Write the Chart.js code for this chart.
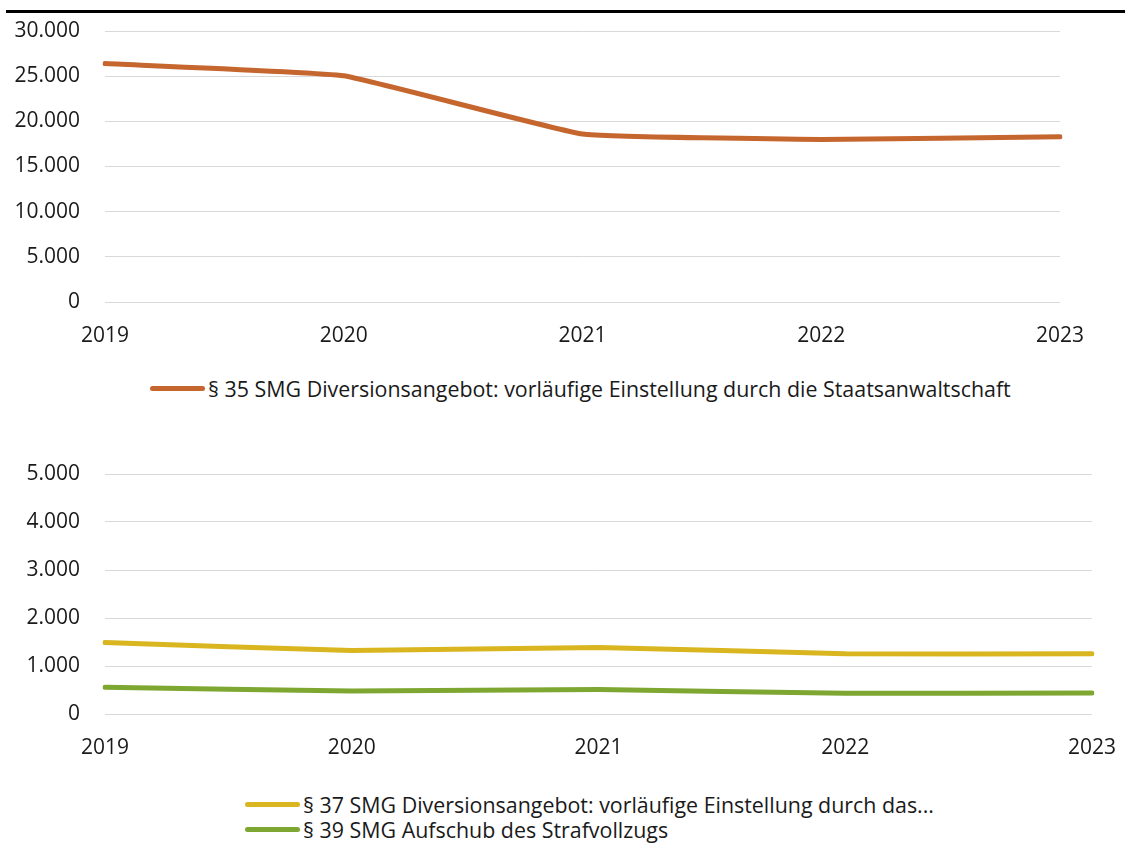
<!DOCTYPE html>
<html>
<head>
<meta charset="utf-8">
<script src="https://cdn.jsdelivr.net/npm/chart.js@4"></script>
<style>
  body { margin: 0; background: #fff; width: 1125px; height: 843px; position: relative; overflow: hidden;
         font-family: "Open Sans", "Noto Sans", sans-serif; color: #1a1a1a; }
  .rule { position: absolute; left: 6px; right: 0; top: 10px; height: 3px; background: #000; }
  .box { position: absolute; left: 0; width: 1125px; }
  .legend { position: absolute; font-size: 21.4px; line-height: 25px; white-space: nowrap; }
  .legend div { display: flex; align-items: center; }
  .legend span.swatch { display: inline-block; width: 55px; height: 5px; border-radius: 3px; margin-right: 3px; }
</style>
</head>
<body>
<div class="rule"></div>
<div class="box" style="top:12px;height:348px"><canvas id="chartTop"></canvas></div>
<div class="legend" id="legendTop" style="left:150px;top:376px"></div>
<div class="box" style="top:455px;height:317px"><canvas id="chartBottom"></canvas></div>
<div class="legend" id="legendBottom" style="left:245px;top:792px"></div>
<script>
// years on the x axis
const years = ["2019", "2020", "2021", "2022", "2023"];

// § 35 SMG (top chart)
const label35 = "§ 35 SMG Diversionsangebot: vorläufige Einstellung durch die Staatsanwaltschaft";
const values35 = [26400, 25050, 18600, 18000, 18300];

// § 37 and § 39 SMG (bottom chart)
const label37 = "§ 37 SMG Diversionsangebot: vorläufige Einstellung durch das...";
const values37 = [1490, 1325, 1385, 1255, 1255];
const label39 = "§ 39 SMG Aufschub des Strafvollzugs";
const values39 = [555, 480, 510, 430, 435];

const COL_ORANGE = "#c6662f";
const COL_YELLOW = "#d9b520";
const COL_GREEN = "#7ea732";

const FONT = { family: '"Open Sans", "Noto Sans", sans-serif', size: 21 };

// 26400 -> "26.400"
const fmt = v => String(v).replace(/\B(?=(\d{3})+(?!\d))/g, ".");

function lineSet(label, data, color) {
  return {
    label, data,
    borderColor: color,
    backgroundColor: color,
    borderWidth: 5,
    borderCapStyle: "round",
    borderJoinStyle: "round",
    pointRadius: 0,
    tension: 0.1,
    fill: false
  };
}

function makeChart(id, datasets, yMax, step, padRight, padTop) {
  return new Chart(document.getElementById(id), {
    type: "line",
    data: { labels: years, datasets },
    options: {
      responsive: true,
      maintainAspectRatio: false,
      animation: false,
      layout: { padding: { left: 0, right: padRight, top: padTop, bottom: 0 } },
      scales: {
        x: {
          offset: false,
          grid: { display: false, drawTicks: false },
          border: { display: false },
          ticks: { color: "#1a1a1a", font: FONT, padding: 21, maxRotation: 0, autoSkip: false },
          afterFit: s => { s.height = 58; s.paddingLeft = 0; s.paddingRight = 0; }
        },
        y: {
          min: 0, max: yMax,
          grid: { color: "#d9d9d9", lineWidth: 1, drawTicks: false },
          border: { display: false },
          ticks: { stepSize: step, color: "#1a1a1a", font: FONT, padding: 25, callback: v => fmt(v) },
          // fixed axis width; drop the label overhang so the plot top follows layout padding
          afterFit: s => { s.width = 105; s.paddingTop = 0; s.paddingBottom = 0; }
        }
      },
      plugins: { legend: { display: false }, tooltip: { enabled: false } }
    }
  });
}

function htmlLegend(elId, datasets) {
  const el = document.getElementById(elId);
  datasets.forEach(ds => {
    const row = document.createElement("div");
    const sw = document.createElement("span");
    sw.className = "swatch";
    sw.style.background = ds.borderColor;
    row.appendChild(sw);
    row.appendChild(document.createTextNode(ds.label));
    el.appendChild(row);
  });
}

const topSets = [lineSet(label35, values35, COL_ORANGE)];
const bottomSets = [lineSet(label37, values37, COL_YELLOW), lineSet(label39, values39, COL_GREEN)];

makeChart("chartTop", topSets, 30000, 5000, 65, 19);
makeChart("chartBottom", bottomSets, 5000, 1000, 33, 19);
htmlLegend("legendTop", topSets);
htmlLegend("legendBottom", bottomSets);
</script>
</body>
</html>
